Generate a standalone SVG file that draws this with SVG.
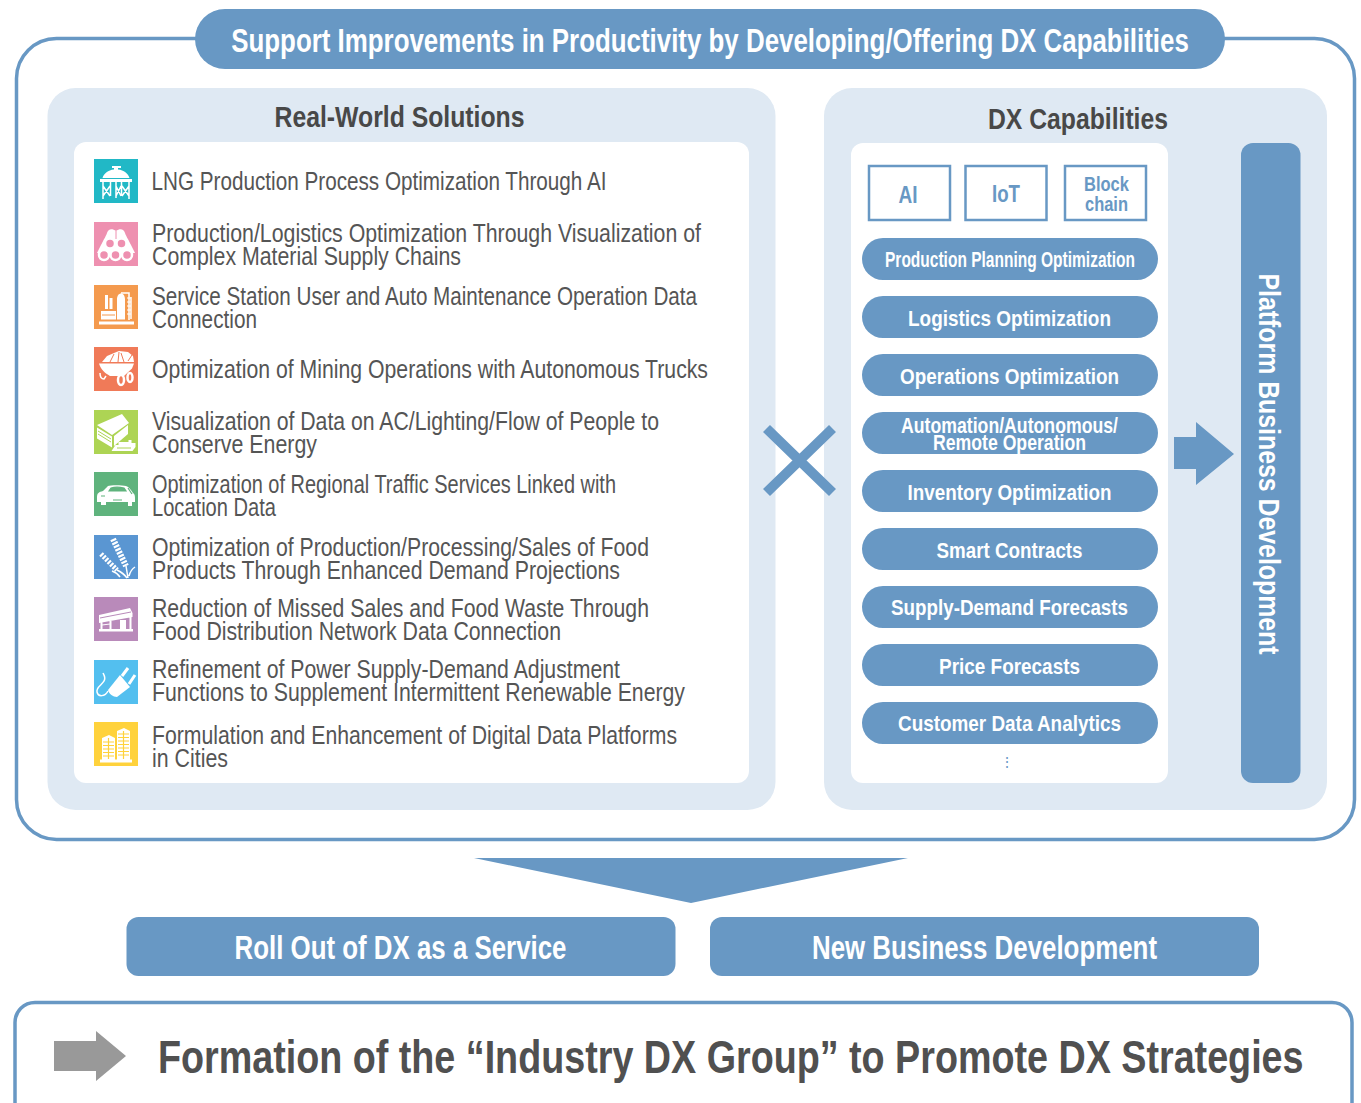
<svg xmlns="http://www.w3.org/2000/svg" width="1361" height="1103" viewBox="0 0 1361 1103">
<style>
text{font-family:"Liberation Sans",Arial,sans-serif}
.b{fill:#6898c4}
.p{fill:#dfe9f3}
.w{fill:#fff}
.i{fill:#fff;stroke:none}
.l{fill:none;stroke:#fff;stroke-width:1.5}
.t{font-size:26px;fill:#555}
.h{font-size:29px;font-weight:bold;fill:#484848;text-anchor:middle}
.c{font-size:22px;font-weight:bold;fill:#fff;text-anchor:middle}
.k{font-weight:bold;fill:#6898c4;text-anchor:middle}
.m{font-size:33px;font-weight:bold;fill:#fff;text-anchor:middle}
</style>
<g id="frame"><rect x="16.500" y="38.500" width="1338" height="801" rx="40" fill="#fff" stroke="#6898c4" stroke-width="3.500"/></g>
<g id="title"><rect class="b" x="195" y="9" width="1030" height="60" rx="30"/><text transform="translate(710 52) scale(.8 1)" font-size="33" font-weight="bold" fill="#fff" text-anchor="middle" textLength="1197" lengthAdjust="spacingAndGlyphs">Support Improvements in Productivity by Developing/Offering DX Capabilities</text></g>
<g id="real-world-solutions">
<rect class="p" x="47.500" y="88" width="728" height="722" rx="28"/>
<rect class="w" x="74" y="142" width="675" height="641" rx="12"/>
<text class="h" x="399.500" y="127" textLength="250" lengthAdjust="spacingAndGlyphs">Real-World Solutions</text>
<g id="s1"><rect x="94" y="159" width="44" height="44" fill="#21b8c6"/><path class="i" d="M112 166h9v2h-3v1.500c6 .5 10 4 11.500 8.500h-27c1.500-4.500 5.500-8 11.500-8.500V168h-2zM100 179h32v3h-32z"/><path class="l" d="M103 182v17M129 182v17M110.500 182v14M116 182v16M121.500 182v14M103 186l7 10M110 186l-7 10M116 186l5 10M121 186l-5 10M122 186l7 10M129 186l-7 10"/><text class="t" x="151.500" y="190" textLength="455" lengthAdjust="spacingAndGlyphs">LNG Production Process Optimization Through AI</text></g>
<g id="s2"><rect x="94" y="222" width="44" height="44" fill="#ee90b0"/><path class="i" d="M116 231c-4-3-8-2-9 2 -1 3-3 6-6 12l-4 8h38l-4-8c-3-6-5-9-6-12-1-4-5-5-9-2z"/><path d="M116 231v8" stroke="#ee90b0" fill="none"/><g fill="#ee90b0" stroke="#fff" stroke-width="2.500"><circle cx="104" cy="255" r="5"/><circle cx="115.500" cy="255" r="5"/><circle cx="127" cy="255" r="5"/><circle cx="110" cy="243.500" r="5"/><circle cx="121.500" cy="243.500" r="5"/></g><text class="t" x="152" y="242" textLength="549" lengthAdjust="spacingAndGlyphs">Production/Logistics Optimization Through Visualization of</text><text class="t" x="152" y="265" textLength="309" lengthAdjust="spacingAndGlyphs">Complex Material Supply Chains</text></g>
<g id="s3"><rect x="94" y="285" width="44" height="44" fill="#f49a4e"/><path class="i" d="M99 321.500h35v3H99zM101 311h15v8.500h-15zM105 295h3v14h-3zM109.500 298h3v11h-3zM117 319.500v-20c0-4 2-6 4-6s4 2 4 6v20z"/><path d="M102 315h13" stroke="#f49a4e" fill="none"/><path class="l" d="M121 293h8v27M131 297v22" stroke-dasharray="none"/><path d="M127 298h4M127 302h4M127 306h4M127 310h4M127 314h4" stroke="#fff" fill="none"/><text class="t" x="152" y="305" textLength="545" lengthAdjust="spacingAndGlyphs">Service Station User and Auto Maintenance Operation Data</text><text class="t" x="152" y="328" textLength="105" lengthAdjust="spacingAndGlyphs">Connection</text></g>
<g id="s4"><rect x="94" y="347" width="44" height="44" fill="#f07a58"/><path class="i" d="M102 362l5-6 7-3 5-2 9 1 5 4 1 6zM99 363.500h35l-2 5-8 7.500h-14c-5-3-9-6-11-12.500z"/><path d="M110 362l4-8M118 362l1-10M124 362l-3-9M128 361l4-6" stroke="#f07a58" fill="none"/><g fill="#f07a58" stroke="#fff" stroke-width="2.500"><ellipse cx="121" cy="380" rx="3" ry="5"/><ellipse cx="130" cy="377.500" rx="2.500" ry="4.500"/></g><path class="l" d="M100 373c0 4 2 6 4 6l2-3"/><text class="t" x="152" y="378" textLength="556" lengthAdjust="spacingAndGlyphs">Optimization of Mining Operations with Autonomous Trucks</text></g>
<g id="s5"><rect x="94" y="410" width="44" height="44" fill="#add454"/><path class="i" d="M97 425l25-11 7 9-17 12zM97 427.500l15 9v11l-15-9zM114 436l14-11v9l-14 12z"/><path class="i" d="M111.500 451l4-6h3v-3h10v-2h3v3h4v4l-3 4z"/><path fill="none" stroke="#add454" d="M98 431l13 8M98 434l13 8M117 448h14"/><text class="t" x="152" y="430" textLength="507" lengthAdjust="spacingAndGlyphs">Visualization of Data on AC/Lighting/Flow of People to</text><text class="t" x="152" y="453" textLength="165" lengthAdjust="spacingAndGlyphs">Conserve Energy</text></g>
<g id="s6"><rect x="94" y="472" width="44" height="44" fill="#5fb37d"/><path class="i" d="M97 497c0-4 2-5 6-6l5-5c2-1 14-1 18 0 3 1 5 4 7 7 2 1 2 3 2 7v2h-3v4h-4v-4h-22v3h-5v-3h-4z"/><path d="M109 491l2-3c3-1 9-1 13 0l2 3zM128 488l4 6M101 496h4M113 500h9" stroke="#5fb37d" stroke-width="1.200" fill="#5fb37d"/><text class="t" x="152" y="493" textLength="464" lengthAdjust="spacingAndGlyphs">Optimization of Regional Traffic Services Linked with</text><text class="t" x="152" y="516" textLength="124" lengthAdjust="spacingAndGlyphs">Location Data</text></g>
<g id="s7"><rect x="94" y="535" width="44" height="44" fill="#5a96d2"/><path d="M113 539l13 27" stroke="#fff" stroke-width="6" stroke-dasharray="2.200 1.300" fill="none"/><path d="M101 554l16 16" stroke="#fff" stroke-width="5" stroke-dasharray="2.200 1.300" fill="none"/><path class="l" d="M126 566l2 12M117 570c4 2 8 5 10 8M112 571c3 1 6 3 8 6M129 576c1-4 3-7 6-9"/><text class="t" x="152" y="556" textLength="497" lengthAdjust="spacingAndGlyphs">Optimization of Production/Processing/Sales of Food</text><text class="t" x="152" y="579" textLength="468" lengthAdjust="spacingAndGlyphs">Products Through Enhanced Demand Projections</text></g>
<g id="s8"><rect x="94" y="597" width="44" height="44" fill="#b98aba"/><path class="i" d="M99 615l31-7 2.500 5v4l-33.500 6zM99 629h34v2.500H99zM100.500 622h2v8h-2zM109.500 621h2v9h-2zM120 620h6v10h-6zM129.500 617h2v13h-2z"/><path d="M100 618l31-6" stroke="#b98aba" fill="none"/><path d="M102 625l8-1" stroke="#fff" fill="none"/><text class="t" x="152" y="617" textLength="497" lengthAdjust="spacingAndGlyphs">Reduction of Missed Sales and Food Waste Through</text><text class="t" x="152" y="640" textLength="409" lengthAdjust="spacingAndGlyphs">Food Distribution Network Data Connection</text></g>
<g id="s9"><rect x="94" y="660" width="44" height="44" fill="#53bfef"/><path class="i" d="M108 690l12-15 10 12-13 10c-4 0-8-3-9-7z"/><path d="M122 676l6-8M129 684l6-9" stroke="#fff" stroke-width="3" fill="none"/><path class="l" d="M108 691c-3 6-10 6-11 1-1-5 5-7 7-11 2-3 0-6-1-8"/><text class="t" x="152" y="678" textLength="468" lengthAdjust="spacingAndGlyphs">Refinement of Power Supply-Demand Adjustment</text><text class="t" x="152" y="701" textLength="533" lengthAdjust="spacingAndGlyphs">Functions to Supplement Intermittent Renewable Energy</text></g>
<g id="s10"><rect x="94" y="722" width="44" height="44" fill="#ffd23c"/><path class="i" d="M102 738l7-3 6 3v22h-13zM117 731l7-3 6 3v29h-13zM100 759.500h32v3h-32z"/><path stroke="#ffd23c" stroke-width="1.200" d="M103 742h11M103 745.500h11M103 749h11M103 752.500h11M103 756h11M118 734h11M118 737.500h11M118 741h11M118 744.500h11M118 748h11M118 751.500h11M118 755h11M108.500 738v21M123.500 731v28"/><text class="t" x="152" y="744" textLength="525" lengthAdjust="spacingAndGlyphs">Formulation and Enhancement of Digital Data Platforms</text><text class="t" x="152" y="767" textLength="76" lengthAdjust="spacingAndGlyphs">in Cities</text></g>
</g>
<g id="dx-capabilities">
<rect class="p" x="824" y="88" width="503" height="722" rx="28"/>
<rect class="w" x="851" y="143" width="317" height="640" rx="12"/>
<text class="h" x="1078" y="129" textLength="180" lengthAdjust="spacingAndGlyphs">DX Capabilities</text>
<g id="k1"><rect x="869" y="166" width="81" height="54" fill="#fff" stroke="#6898c4" stroke-width="2.500"/><text class="k" font-size="24" x="908" y="203" textLength="19" lengthAdjust="spacingAndGlyphs">AI</text></g>
<g id="k2"><rect x="965.500" y="166" width="81" height="54" fill="#fff" stroke="#6898c4" stroke-width="2.500"/><text class="k" font-size="24" x="1006" y="202" textLength="28" lengthAdjust="spacingAndGlyphs">IoT</text></g>
<g id="k3"><rect x="1065" y="166" width="81" height="54" fill="#fff" stroke="#6898c4" stroke-width="2.500"/><text class="k" font-size="21" x="1106.500" y="191" textLength="45" lengthAdjust="spacingAndGlyphs">Block</text><text class="k" font-size="21" x="1106.500" y="211" textLength="43" lengthAdjust="spacingAndGlyphs">chain</text></g>
<g id="c1"><rect class="b" x="862" y="238" width="296" height="42" rx="21"/><text class="c" x="1010" y="267" textLength="250" lengthAdjust="spacingAndGlyphs">Production Planning Optimization</text></g>
<g id="c2"><rect class="b" x="862" y="296" width="296" height="42" rx="21"/><text class="c" x="1009.500" y="326" textLength="203" lengthAdjust="spacingAndGlyphs">Logistics Optimization</text></g>
<g id="c3"><rect class="b" x="862" y="354" width="296" height="42" rx="21"/><text class="c" x="1009.500" y="384" textLength="219" lengthAdjust="spacingAndGlyphs">Operations Optimization</text></g>
<g id="c4"><rect class="b" x="862" y="412" width="296" height="42" rx="21"/><text class="c" x="1009.500" y="433" textLength="217" lengthAdjust="spacingAndGlyphs">Automation/Autonomous/</text><text class="c" x="1009.500" y="450" textLength="153" lengthAdjust="spacingAndGlyphs">Remote Operation</text></g>
<g id="c5"><rect class="b" x="862" y="470" width="296" height="42" rx="21"/><text class="c" x="1009.500" y="500" textLength="204" lengthAdjust="spacingAndGlyphs">Inventory Optimization</text></g>
<g id="c6"><rect class="b" x="862" y="528" width="296" height="42" rx="21"/><text class="c" x="1009.500" y="558" textLength="146" lengthAdjust="spacingAndGlyphs">Smart Contracts</text></g>
<g id="c7"><rect class="b" x="862" y="586" width="296" height="42" rx="21"/><text class="c" x="1009.500" y="615" textLength="237" lengthAdjust="spacingAndGlyphs">Supply-Demand Forecasts</text></g>
<g id="c8"><rect class="b" x="862" y="644" width="296" height="42" rx="21"/><text class="c" x="1009.500" y="674" textLength="141" lengthAdjust="spacingAndGlyphs">Price Forecasts</text></g>
<g id="c9"><rect class="b" x="862" y="702" width="296" height="42" rx="21"/><text class="c" x="1009.500" y="731" textLength="223" lengthAdjust="spacingAndGlyphs">Customer Data Analytics</text></g>
<text x="1006.500" y="767" font-size="14" fill="#6898c4" text-anchor="middle">⋮</text>
<path class="b" d="M1174 437h22v-15l38 32-38 31v-16h-22z"/>
<g id="platform"><rect class="b" x="1241" y="143" width="59.500" height="640" rx="12"/><text transform="translate(1259 464) rotate(90)" font-size="30" font-weight="bold" fill="#fff" text-anchor="middle" textLength="381" lengthAdjust="spacingAndGlyphs">Platform Business Development</text></g>
</g>
<g id="cross"><path d="M766.500 428.500L832.500 492.500M832.500 428.500L766.500 492.500" stroke="#6898c4" stroke-width="10" fill="none"/></g>
<path id="down-arrow" class="b" d="M474 858h434l-217 45z"/>
<g id="rollout"><rect class="b" x="126.500" y="917" width="549" height="59" rx="12"/><text class="m" x="400.500" y="959" textLength="332" lengthAdjust="spacingAndGlyphs">Roll Out of DX as a Service</text></g>
<g id="newbiz"><rect class="b" x="710" y="917" width="549" height="59" rx="12"/><text class="m" x="984.500" y="959" textLength="345" lengthAdjust="spacingAndGlyphs">New Business Development</text></g>
<g id="formation"><rect x="15" y="1002.500" width="1337" height="140" rx="20" fill="#fff" stroke="#6898c4" stroke-width="3.500"/><path d="M54 1041h42v-10l30 25-30 25v-10H54z" fill="#999"/><text transform="translate(158 1073) scale(.82 1)" font-size="46" font-weight="bold" fill="#505050" textLength="1397" lengthAdjust="spacingAndGlyphs">Formation of the “Industry DX Group” to Promote DX Strategies</text></g>
</svg>
